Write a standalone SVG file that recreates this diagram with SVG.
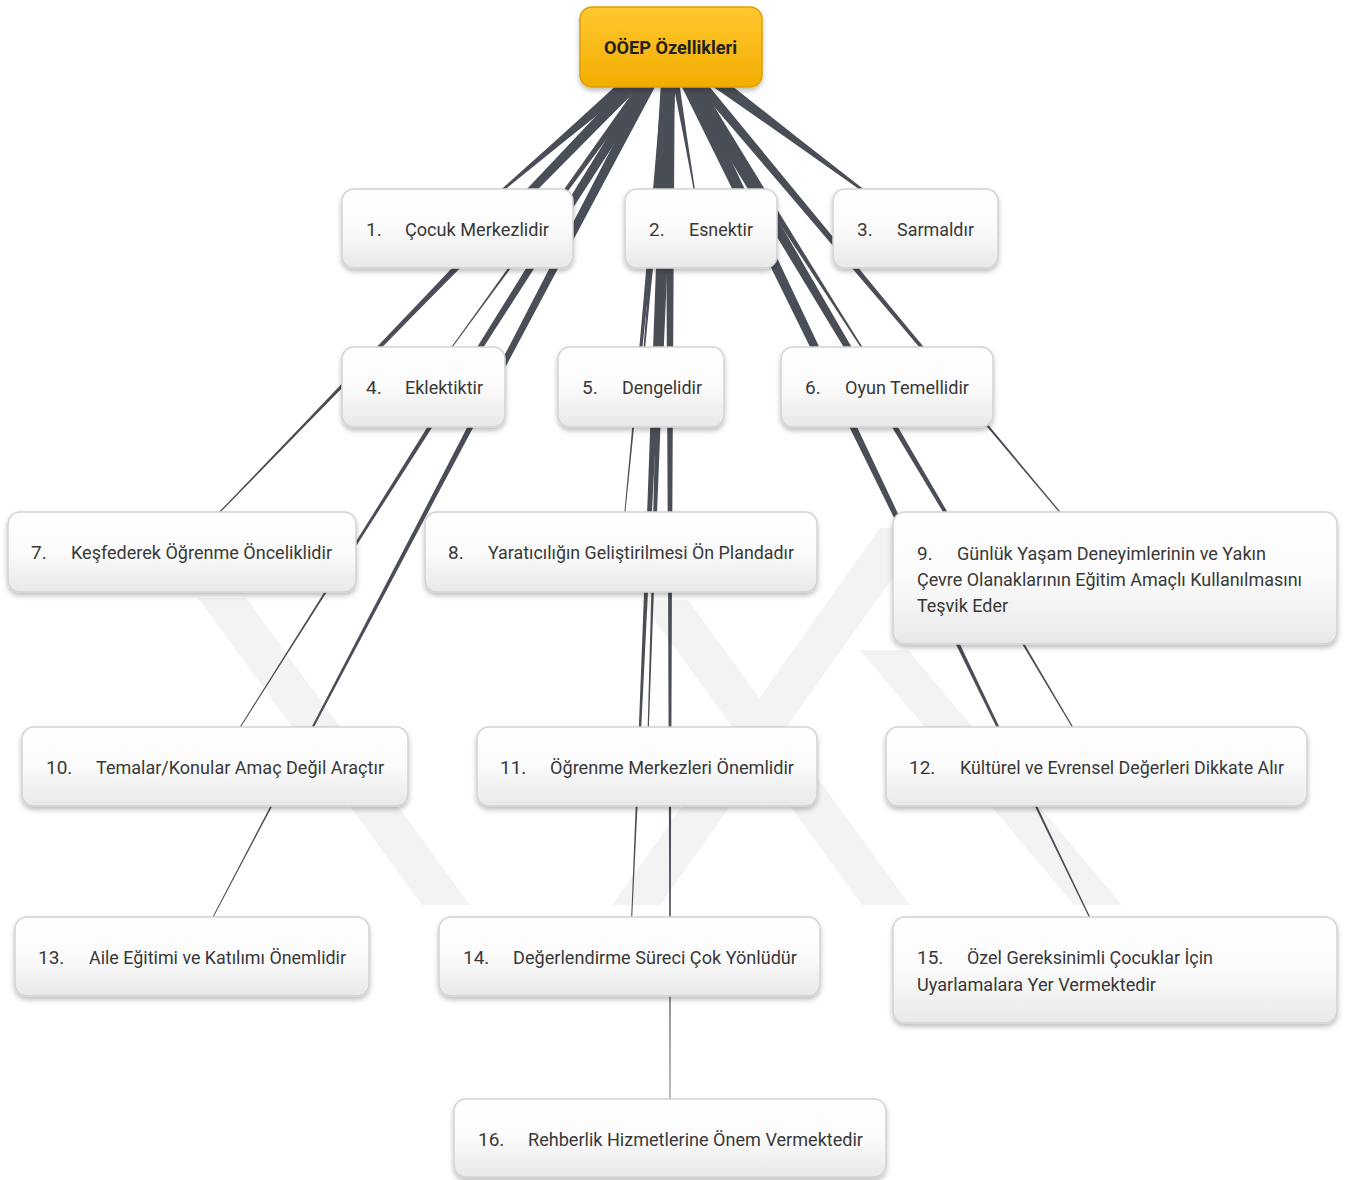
<svg xmlns="http://www.w3.org/2000/svg" xmlns:xlink="http://www.w3.org/1999/xlink" width="1347" height="1180" viewBox="0 0 1347 1180">
<style>
.box{fill:url(#nodeGrad);stroke:#d2d2d2;stroke-width:1.5;filter:url(#shadow)}
.num,.lbl{font-family:Roboto,"Liberation Sans",sans-serif;font-size:19px;fill:#383838}
.root{fill:url(#rootGrad);stroke:#dca100;stroke-width:1.5;filter:url(#shadow)}
.rootlbl{font-family:Roboto,"Liberation Sans",sans-serif;font-size:19px;font-weight:bold;fill:#222}
.conn{fill:#4a4e57}
.wm{fill:#f3f3f3}
</style>
<defs>
<linearGradient id="nodeGrad" x1="0" y1="0" x2="0" y2="1">
<stop offset="0" stop-color="#ffffff"/>
<stop offset="0.5" stop-color="#fbfbfb"/>
<stop offset="1" stop-color="#e8e8e8"/>
</linearGradient>
<linearGradient id="rootGrad" x1="0" y1="0" x2="0" y2="1">
<stop offset="0" stop-color="#ffc830"/>
<stop offset="1" stop-color="#f2ad00"/>
</linearGradient>
<filter id="shadow" x="-10%" y="-20%" width="120%" height="150%">
<feDropShadow dx="0" dy="3" stdDeviation="2.5" flood-color="#000" flood-opacity="0.25"/>
</filter>
<polygon id="taper" points="0,-7 0.25,-4.75 0.5,-2.75 0.75,-1.3 1,-0.4 1,0.4 0.75,1.3 0.5,2.75 0.25,4.75 0,7"/>
</defs>
<rect width="1347" height="1180" fill="#ffffff"/>
<g id="watermark">
<polygon class="wm" points="198,598 246,598 470,905 422,905"/>
<polygon class="wm" points="880,528 928,528 660,905 612,905"/>
<polygon class="wm" points="640,600 688,600 910,905 862,905"/>
<polygon class="wm" points="860,650 908,650 1122,905 1074,905"/>
</g>
<g id="connectors">
<use xlink:href="#taper" class="conn" transform="translate(670,47) rotate(139.5) scale(280.2,1.15)"/>
<use xlink:href="#taper" class="conn" transform="translate(670,47) rotate(80.33) scale(184.6,0.6)"/>
<use xlink:href="#taper" class="conn" transform="translate(670,47) rotate(36.6) scale(305.2,1.2)"/>
<use xlink:href="#taper" class="conn" transform="translate(670,47) rotate(126.0) scale(420.2,0.6)"/>
<use xlink:href="#taper" class="conn" transform="translate(670,47) rotate(94.88) scale(341.2,1)"/>
<use xlink:href="#taper" class="conn" transform="translate(670,47) rotate(57.45) scale(403.3,1)"/>
<use xlink:href="#taper" class="conn" transform="translate(670,47) rotate(134.07) scale(703,0.9)"/>
<use xlink:href="#taper" class="conn" transform="translate(670,47) rotate(95.54) scale(507.4,0.7)"/>
<use xlink:href="#taper" class="conn" transform="translate(670,47) rotate(50.03) scale(692.8,0.75)"/>
<use xlink:href="#taper" class="conn" transform="translate(670,47) rotate(122.29) scale(851.7,0.8)"/>
<use xlink:href="#taper" class="conn" transform="translate(670,47) rotate(91.83) scale(720.4,1)"/>
<use xlink:href="#taper" class="conn" transform="translate(670,47) rotate(59.38) scale(836.6,1)"/>
<use xlink:href="#taper" class="conn" transform="translate(670,47) rotate(117.71) scale(1027.9,0.8)"/>
<use xlink:href="#taper" class="conn" transform="translate(670,47) rotate(92.52) scale(910.9,0.9)"/>
<use xlink:href="#taper" class="conn" transform="translate(670,47) rotate(64.26) scale(1024.7,1)"/>
<use xlink:href="#taper" class="conn" transform="translate(670,47) rotate(90) scale(1091,0.7)"/>
</g>
<g id="root">
<rect class="root" x="580" y="7" width="182" height="80" rx="12"/>
<text class="rootlbl" x="604" y="54" textLength="133" lengthAdjust="spacingAndGlyphs">OÖEP Özellikleri</text>
</g>
<g id="n1">
<rect class="box" x="342" y="189" width="231" height="79" rx="12"/>
<text class="num" x="366" y="236">1.</text>
<text class="lbl" x="405" y="236" textLength="144" lengthAdjust="spacingAndGlyphs">Çocuk Merkezlidir</text>
</g>
<g id="n2">
<rect class="box" x="625" y="189" width="152" height="79" rx="12"/>
<text class="num" x="649" y="236">2.</text>
<text class="lbl" x="689" y="236" textLength="64" lengthAdjust="spacingAndGlyphs">Esnektir</text>
</g>
<g id="n3">
<rect class="box" x="833" y="189" width="165" height="79" rx="12"/>
<text class="num" x="857" y="236">3.</text>
<text class="lbl" x="897" y="236" textLength="77" lengthAdjust="spacingAndGlyphs">Sarmaldır</text>
</g>
<g id="n4">
<rect class="box" x="342" y="347" width="163" height="80" rx="12"/>
<text class="num" x="366" y="394">4.</text>
<text class="lbl" x="405" y="394" textLength="78" lengthAdjust="spacingAndGlyphs">Eklektiktir</text>
</g>
<g id="n5">
<rect class="box" x="558" y="347" width="166" height="80" rx="12"/>
<text class="num" x="582" y="394">5.</text>
<text class="lbl" x="622" y="394" textLength="80" lengthAdjust="spacingAndGlyphs">Dengelidir</text>
</g>
<g id="n6">
<rect class="box" x="781" y="347" width="212" height="80" rx="12"/>
<text class="num" x="805" y="394">6.</text>
<text class="lbl" x="845" y="394" textLength="124" lengthAdjust="spacingAndGlyphs">Oyun Temellidir</text>
</g>
<g id="n7">
<rect class="box" x="8" y="512" width="348" height="80" rx="12"/>
<text class="num" x="31" y="559">7.</text>
<text class="lbl" x="71" y="559" textLength="261" lengthAdjust="spacingAndGlyphs">Keşfederek Öğrenme Önceliklidir</text>
</g>
<g id="n8">
<rect class="box" x="425" y="512" width="392" height="80" rx="12"/>
<text class="num" x="448" y="559">8.</text>
<text class="lbl" x="488" y="559" textLength="306" lengthAdjust="spacingAndGlyphs">Yaratıcılığın Geliştirilmesi Ön Plandadır</text>
</g>
<g id="n9">
<rect class="box" x="893" y="512" width="444" height="132" rx="12"/>
<text class="num" x="917" y="560">9.</text>
<text class="lbl" x="957" y="560" textLength="309" lengthAdjust="spacingAndGlyphs">Günlük Yaşam Deneyimlerinin ve Yakın</text>
<text class="lbl" x="917" y="586" textLength="385" lengthAdjust="spacingAndGlyphs">Çevre Olanaklarının Eğitim Amaçlı Kullanılmasını</text>
<text class="lbl" x="917" y="612" textLength="91" lengthAdjust="spacingAndGlyphs">Teşvik Eder</text>
</g>
<g id="n10">
<rect class="box" x="22" y="727" width="386" height="79" rx="12"/>
<text class="num" x="46" y="774">10.</text>
<text class="lbl" x="96" y="774" textLength="288" lengthAdjust="spacingAndGlyphs">Temalar/Konular Amaç Değil Araçtır</text>
</g>
<g id="n11">
<rect class="box" x="477" y="727" width="340" height="79" rx="12"/>
<text class="num" x="500" y="774">11.</text>
<text class="lbl" x="550" y="774" textLength="244" lengthAdjust="spacingAndGlyphs">Öğrenme Merkezleri Önemlidir</text>
</g>
<g id="n12">
<rect class="box" x="886" y="727" width="421" height="79" rx="12"/>
<text class="num" x="909" y="774">12.</text>
<text class="lbl" x="960" y="774" textLength="324" lengthAdjust="spacingAndGlyphs">Kültürel ve Evrensel Değerleri Dikkate Alır</text>
</g>
<g id="n13">
<rect class="box" x="15" y="917" width="354" height="79" rx="12"/>
<text class="num" x="38" y="964">13.</text>
<text class="lbl" x="89" y="964" textLength="257" lengthAdjust="spacingAndGlyphs">Aile Eğitimi ve Katılımı Önemlidir</text>
</g>
<g id="n14">
<rect class="box" x="439" y="917" width="381" height="79" rx="12"/>
<text class="num" x="463" y="964">14.</text>
<text class="lbl" x="513" y="964" textLength="284" lengthAdjust="spacingAndGlyphs">Değerlendirme Süreci Çok Yönlüdür</text>
</g>
<g id="n15">
<rect class="box" x="893" y="917" width="444" height="106" rx="12"/>
<text class="num" x="917" y="964">15.</text>
<text class="lbl" x="967" y="964" textLength="246" lengthAdjust="spacingAndGlyphs">Özel Gereksinimli Çocuklar İçin</text>
<text class="lbl" x="917" y="991" textLength="239" lengthAdjust="spacingAndGlyphs">Uyarlamalara Yer Vermektedir</text>
</g>
<g id="n16">
<rect class="box" x="454" y="1099" width="432" height="78" rx="12"/>
<text class="num" x="478" y="1146">16.</text>
<text class="lbl" x="528" y="1146" textLength="335" lengthAdjust="spacingAndGlyphs">Rehberlik Hizmetlerine Önem Vermektedir</text>
</g>
</svg>
